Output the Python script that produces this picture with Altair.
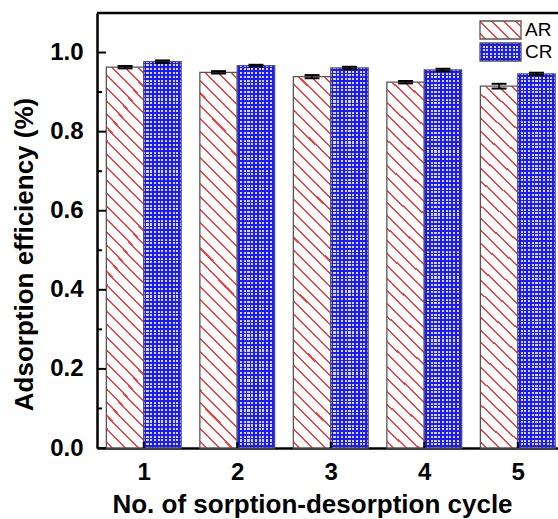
import altair as alt
import pandas as pd

# ---------------- data ----------------
cycles = [1, 2, 3, 4, 5]
series = ["AR", "CR"]
ar_eff = [0.963, 0.950, 0.939, 0.925, 0.915]
cr_eff = [0.977, 0.967, 0.961, 0.956, 0.946]
ar_err = [0.003, 0.003, 0.004, 0.003, 0.006]
cr_err = [0.003, 0.002, 0.003, 0.003, 0.003]
y_ticks = [0.0, 0.2, 0.4, 0.6, 0.8, 1.0]
y_minor = [0.1, 0.3, 0.5, 0.7, 0.9]
x_title = "No. of sorption-desorption cycle"
y_title = "Adsorption efficiency (%)"

rows = []
for i, c in enumerate(cycles):
    rows.append({"cycle": c, "series": series[0], "eff": ar_eff[i], "err": ar_err[i]})
    rows.append({"cycle": c, "series": series[1], "eff": cr_eff[i], "err": cr_err[i]})
df = pd.DataFrame(rows)

# ---------------- styling helpers ----------------
W, H = 461, 435
FONT = "Liberation Sans"
RED = "#ff3b3b"
BLUE = "#1a1aff"
LIGHT = "#d8d8ff"
WHITE = "#ffffff"
CLEAR = "rgba(26,26,255,0)"


def stripe_stops(n, frac, line_color, bg_color):
    # n stripes, each covering `frac` of its period
    half = frac / n / 2
    stops = [alt.GradientStop(color=bg_color, offset=0)]
    for i in range(n):
        c = (i + 0.5) / n
        stops += [
            alt.GradientStop(color=bg_color, offset=round(c - half, 5)),
            alt.GradientStop(color=line_color, offset=round(c - half, 5)),
            alt.GradientStop(color=line_color, offset=round(c + half, 5)),
            alt.GradientStop(color=bg_color, offset=round(c + half, 5)),
        ]
    stops.append(alt.GradientStop(color=bg_color, offset=1))
    return stops


def diag_gradient(k, n, frac):
    # "\" hatch at 45 degrees for a box of aspect ratio k = height / width
    s = (1 + k) / (1 + k * k)
    return alt.LinearGradient(
        gradient="linear",
        stops=stripe_stops(n, frac, RED, WHITE),
        x1=0, y1=1, x2=round(s, 5), y2=round(1 - s * k, 5),
    )


def vert_gradient(n, frac, line, bg):
    return alt.LinearGradient(gradient="linear", stops=stripe_stops(n, frac, line, bg),
                              x1=0, y1=0, x2=1, y2=0)


def horiz_gradient(n, frac, line, bg):
    return alt.LinearGradient(gradient="linear", stops=stripe_stops(n, frac, line, bg),
                              x1=0, y1=0, x2=0, y2=1)


xscale = alt.Scale(domain=[0.5, 5.43], nice=False, zero=False)
yscale = alt.Scale(domain=[0, 1.1], nice=False)

x_axis = alt.Axis(
    values=cycles, format="d", ticks=False, grid=False, labelFont=FONT, labelFontSize=24,
    labelFontWeight="bold", labelColor="black", labelPadding=12, domainColor="black",
    domainWidth=2.5, title=x_title, titleFont=FONT, titleFontSize=26, titleFontWeight="bold",
    titleColor="black", titleX=215, titleY=64, titleBaseline="alphabetic",
)
y_axis = alt.Axis(
    values=y_ticks, format=".1f", ticks=False, grid=False, labelFont=FONT, labelFontSize=24,
    labelFontWeight="bold", labelColor="black", labelPadding=14, domainColor="black",
    domainWidth=2.5, title=y_title, titleFont=FONT, titleFontSize=26, titleFontWeight="bold",
    titleColor="black", titleX=-73, titleY=241, titleBaseline="middle", titleAngle=-90,
)


def X(f):
    return alt.X(f, scale=xscale, axis=x_axis, title=x_title)


def Y(f):
    return alt.Y(f, scale=yscale, axis=y_axis, title=y_title)


base = alt.Chart(df).transform_calculate(
    x0="datum.series == 'AR' ? datum.cycle - 0.4 : datum.cycle",
    x1="datum.series == 'AR' ? datum.cycle : datum.cycle + 0.4",
    xc="datum.series == 'AR' ? datum.cycle - 0.2 : datum.cycle + 0.2",
    lo="datum.eff - datum.err",
    hi="datum.eff + datum.err",
    zero="0",
)
base = base.transform_calculate(cl="datum.xc - 0.08", cr="datum.xc + 0.08")

ar = base.transform_filter(alt.datum.series == series[0])
cr = base.transform_filter(alt.datum.series == series[1])

ar_bars = ar.mark_bar(
    fill=diag_gradient(10.0, 32, 0.16), stroke="#555555", strokeWidth=1.3
).encode(x=X("x0:Q"), x2="x1:Q", y=Y("eff:Q"), y2="zero:Q")
cr_base = cr.mark_bar(fill=vert_gradient(10, 0.45, BLUE, LIGHT), strokeWidth=0).encode(
    x=X("x0:Q"), x2="x1:Q", y=Y("eff:Q"), y2="zero:Q")
cr_over = cr.mark_bar(fill=horiz_gradient(102, 0.45, BLUE, CLEAR), stroke="#555555",
                      strokeWidth=1.3).encode(
    x=X("x0:Q"), x2="x1:Q", y=Y("eff:Q"), y2="zero:Q")

stem = base.mark_rule(color="black", strokeWidth=1.5).encode(
    x=X("xc:Q"), y=Y("lo:Q"), y2="hi:Q")
cap_hi = base.mark_rule(color="black", strokeWidth=2).encode(
    x=X("cl:Q"), x2="cr:Q", y=Y("hi:Q"))
cap_lo = base.mark_rule(color="black", strokeWidth=2).encode(
    x=X("cl:Q"), x2="cr:Q", y=Y("lo:Q"))

# axis ticks pointing inward
ymaj = alt.Chart(pd.DataFrame({"eff": y_ticks})).mark_rule(color="black", strokeWidth=2).encode(
    y=Y("eff:Q"), x=alt.value(0), x2=alt.value(9))
ymin = alt.Chart(pd.DataFrame({"eff": y_minor})).mark_rule(color="black", strokeWidth=2).encode(
    y=Y("eff:Q"), x=alt.value(0), x2=alt.value(5))
xmaj = alt.Chart(pd.DataFrame({"x0": cycles})).mark_rule(color="black", strokeWidth=2).encode(
    x=X("x0:Q"), y=alt.value(H), y2=alt.value(H - 6))

one = pd.DataFrame({"series": [series[0]]})
two = pd.DataFrame({"series": [series[1]]})
frame_top = alt.Chart(one).mark_rule(color="black", strokeWidth=2.5).encode(
    x=alt.value(0), x2=alt.value(W), y=alt.value(0))

leg_ar = alt.Chart(one).mark_rect(fill=diag_gradient(18 / 41, 5, 0.16), stroke="#555555",
                                  strokeWidth=1.3).encode(
    x=alt.value(383), x2=alt.value(424), y=alt.value(8), y2=alt.value(26))
leg_cr0 = alt.Chart(two).mark_rect(fill=vert_gradient(11, 0.45, BLUE, LIGHT)).encode(
    x=alt.value(383), x2=alt.value(424), y=alt.value(30), y2=alt.value(48))
leg_cr1 = alt.Chart(two).mark_rect(fill=horiz_gradient(5, 0.45, BLUE, CLEAR), stroke="#555555",
                                   strokeWidth=1.3).encode(
    x=alt.value(383), x2=alt.value(424), y=alt.value(30), y2=alt.value(48))
leg_txt_ar = alt.Chart(one).mark_text(align="left", baseline="middle", font=FONT, fontSize=19,
                                      color="black").encode(
    x=alt.value(428), y=alt.value(17), text="series:N")
leg_txt_cr = alt.Chart(two).mark_text(align="left", baseline="middle", font=FONT, fontSize=19,
                                      color="black").encode(
    x=alt.value(428), y=alt.value(39), text="series:N")

chart = alt.layer(
    ar_bars, cr_base, cr_over, stem, cap_hi, cap_lo, ymaj, ymin, xmaj, frame_top,
    leg_ar, leg_cr0, leg_cr1, leg_txt_ar, leg_txt_cr,
).properties(
    width=W, height=H,
    autosize=alt.AutoSizeParams(type="none"),
    padding={"left": 97, "top": 13, "right": 0, "bottom": 71},
).configure_view(stroke=None).configure(background="white")

chart.save("out.html", embed_options={"renderer": "svg", "actions": False})
